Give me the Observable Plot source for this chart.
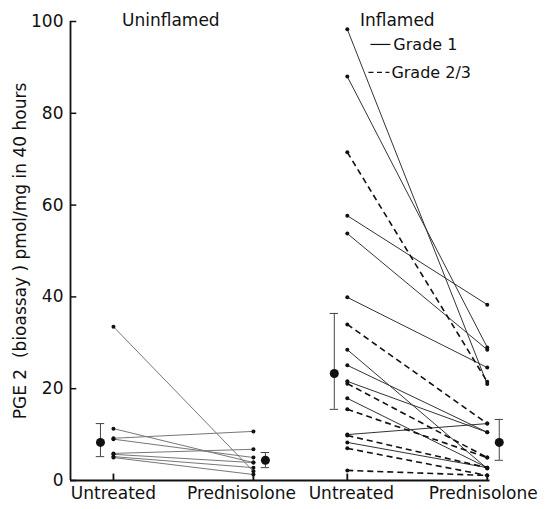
<!DOCTYPE html>
<html>
<head>
<meta charset="utf-8">
<script src="https://cdn.jsdelivr.net/npm/d3@7"></script>
<script src="https://cdn.jsdelivr.net/npm/@observablehq/plot@0.6"></script>
<style>
  html, body { margin: 0; padding: 0; background: #fff; }
  #chart svg { display: block; }
</style>
</head>
<body>
<div id="chart"></div>
<script>
// ---- data ----
const groups = ["Uninflamed", "Inflamed"];
const treatments = ["Untreated", "Prednisolone"];
const yTicks = [0, 20, 40, 60, 80, 100];
const gradeLabels = ["Grade 1", "Grade 2/3"];

const uninflamedUntreated = [33.5, 11.3, 9.2, 9.0, 5.9, 5.7, 5.2, 5.0];
const uninflamedPred      = [ 2.0,  3.9, 10.7, 5.0, 6.8, 3.9, 2.8, 1.3];

const inflamedUntreated = [98.3, 88.0, 71.5, 57.7, 53.8, 39.9, 34.0, 28.5, 25.1, 21.6, 21.1, 17.9, 15.5, 10.0, 9.8, 8.3, 7.0, 2.2];
const inflamedPred      = [21.0, 29.0, 21.5, 38.3, 28.5, 24.6, 12.4,  2.6, 10.5, 10.5,  5.0,  2.8,  5.0, 12.4, 2.8, 2.8, 1.1, 1.1];
const inflamedGrade     = [   1,    1,    2,    1,    1,    1,    2,    1,    1,    1,    2,    1,    2,    1,   2,   1,   2,   2];

const meanValues = [8.3, 4.4, 23.3, 8.3];     // Uninfl-Untr, Uninfl-Pred, Infl-Untr, Infl-Pred
const errLow     = [5.2, 2.8, 15.5, 4.4];
const errHigh    = [12.4, 6.1, 36.4, 13.3];

// ---- layout helpers ----
const groupGap = 1.671;
const pos = (g, t) => g * groupGap + t;

const segments = [];
uninflamedUntreated.forEach((v, i) => segments.push({x1: pos(0,0), y1: v, x2: pos(0,1), y2: uninflamedPred[i], grade: 0}));
inflamedUntreated.forEach((v, i) => segments.push({x1: pos(1,0), y1: v, x2: pos(1,1), y2: inflamedPred[i], grade: inflamedGrade[i]}));

const endpoints = segments.flatMap(s => [{x: s.x1, y: s.y1}, {x: s.x2, y: s.y2}]);

const means = meanValues.map((m, i) => ({
  x: pos(Math.floor(i / 2), i % 2), t: i % 2, y: m, lo: errLow[i], hi: errHigh[i]
}));
const meansU = means.filter(d => d.t === 0);
const meansP = means.filter(d => d.t === 1);

const xTickVals = [pos(0,0), pos(0,1), pos(1,0), pos(1,1)];
const xTickLabels = [treatments[0], treatments[1], treatments[0], treatments[1]];
const labelShift = [0, -12, 4, -4];
const capW = 0.03;
const tickLen = 0.045;
const FONT = "'DejaVu Sans', 'Liberation Sans', sans-serif";

const xLabelAxes = xTickVals.map((v, i) =>
  Plot.axisX([v], {tickSize: 0, tickPadding: 6, fontSize: 17, dx: labelShift[i],
    tickFormat: () => xTickLabels[i], label: null}));

const chart = Plot.plot({
  width: 550,
  height: 509,
  marginLeft: 70,
  marginRight: 20,
  marginTop: 21,
  marginBottom: 29,
  style: {fontFamily: FONT, fontSize: "17px", background: "#fff", color: "#111"},
  x: {domain: [-0.307, 2.98], axis: null},
  y: {domain: [0, 100], axis: null},
  marks: [
    // y axis
    Plot.axisY({ticks: yTicks, tickSize: 0, tickPadding: 7, fontSize: 17,
      label: "PGE 2  (bioassay ) pmol/mg in 40 hours", labelAnchor: "center", labelArrow: "none", labelOffset: 57}),
    Plot.ruleY(yTicks, {x1: -0.307, x2: -0.307 + tickLen, stroke: "#111", strokeWidth: 1.5}),
    Plot.ruleX([-0.307], {y1: 0, y2: 100, stroke: "#111", strokeWidth: 1.8}),
    Plot.ruleY([0], {x1: -0.307, x2: pos(1,1) + 0.02, stroke: "#111", strokeWidth: 1.8}),
    Plot.ruleX(xTickVals, {y1: 0, y2: 1.4, stroke: "#111", strokeWidth: 1.8}),
    // x axis labels
    ...xLabelAxes,
    // paired lines
    Plot.link(segments.filter(s => s.grade === 0), {x1: "x1", y1: "y1", x2: "x2", y2: "y2", stroke: "#777", strokeWidth: 1}),
    Plot.link(segments.filter(s => s.grade === 1), {x1: "x1", y1: "y1", x2: "x2", y2: "y2", stroke: "#333", strokeWidth: 1}),
    Plot.link(segments.filter(s => s.grade === 2), {x1: "x1", y1: "y1", x2: "x2", y2: "y2", stroke: "#111", strokeWidth: 1.6, strokeDasharray: "6,4"}),
    Plot.dot(endpoints, {x: "x", y: "y", r: 2, fill: "#111"}),
    // means with error bars
    Plot.ruleX(meansU, {x: "x", y1: "lo", y2: "hi", dx: -13, stroke: "#444", strokeWidth: 1}),
    Plot.ruleY(meansU, {y: "lo", x1: d => d.x - capW, x2: d => d.x + capW, dx: -13, stroke: "#444", strokeWidth: 1}),
    Plot.ruleY(meansU, {y: "hi", x1: d => d.x - capW, x2: d => d.x + capW, dx: -13, stroke: "#444", strokeWidth: 1}),
    Plot.dot(meansU, {x: "x", y: "y", r: 4.5, fill: "#111", dx: -13}),
    Plot.ruleX(meansP, {x: "x", y1: "lo", y2: "hi", dx: 12, stroke: "#444", strokeWidth: 1}),
    Plot.ruleY(meansP, {y: "lo", x1: d => d.x - capW, x2: d => d.x + capW, dx: 12, stroke: "#444", strokeWidth: 1}),
    Plot.ruleY(meansP, {y: "hi", x1: d => d.x - capW, x2: d => d.x + capW, dx: 12, stroke: "#444", strokeWidth: 1}),
    Plot.dot(meansP, {x: "x", y: "y", r: 4.5, fill: "#111", dx: 12}),
    // group headers
    Plot.text([groups[0]], {x: 0.41, y: 100.2, text: d => d, fontSize: 17, fill: "#111"}),
    Plot.text([groups[1]], {x: pos(1,0) + 0.09, y: 100.2, text: d => d, fontSize: 17, fill: "#111", textAnchor: "start"}),
    // legend
    Plot.link([0], {x1: 1.836, x2: 1.979, y1: 95.0, y2: 95.0, stroke: "#111", strokeWidth: 1.2}),
    Plot.link([0], {x1: 1.822, x2: 1.972, y1: 88.9, y2: 88.9, stroke: "#111", strokeWidth: 1.2, strokeDasharray: "5,3.5"}),
    Plot.text([gradeLabels[0]], {x: 2.0, y: 95.0, text: d => d, fontSize: 16, textAnchor: "start", fill: "#111"}),
    Plot.text([gradeLabels[1]], {x: 1.986, y: 88.9, text: d => d, fontSize: 16, textAnchor: "start", fill: "#111"})
  ]
});
document.getElementById("chart").appendChild(chart);
</script>
</body>
</html>
